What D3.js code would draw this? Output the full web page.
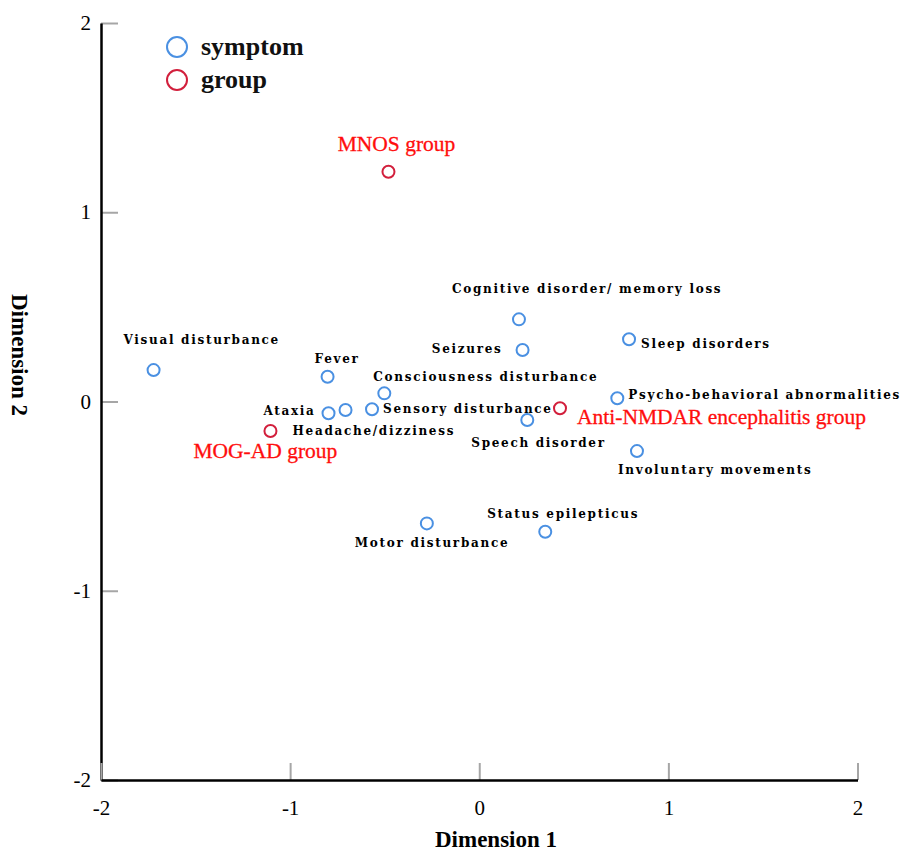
<!DOCTYPE html>
<html>
<head>
<meta charset="utf-8">
<script src="https://cdn.jsdelivr.net/npm/d3@7"></script>
<style>
  html, body { margin: 0; padding: 0; background: #fff; }
  svg { display: block; }
</style>
</head>
<body>
<svg id="chart" width="913" height="852"></svg>
<script>
// ---- data ----
const symptomNames = [
  "Visual disturbance", "Fever", "Consciousness disturbance", "Ataxia",
  "Headache/dizziness", "Sensory disturbance", "Seizures",
  "Cognitive disorder/ memory loss", "Sleep disorders",
  "Psycho-behavioral abnormalities", "Speech disorder",
  "Involuntary movements", "Status epilepticus", "Motor disturbance"
];
const symptomDim1 = [-1.722, -0.802, -0.502, -0.797, -0.707, -0.567, 0.229, 0.210, 0.792, 0.730, 0.254, 0.834, 0.349, -0.277];
const symptomDim2 = [0.166, 0.131, 0.043, -0.062, -0.045, -0.041, 0.272, 0.434, 0.329, 0.017, -0.098, -0.262, -0.688, -0.644];

const groupNames = ["MNOS group", "MOG-AD group", "Anti-NMDAR encephalitis group"];
const groupDim1 = [-0.480, -1.104, 0.427];
const groupDim2 = [1.214, -0.156, -0.036];

const tickValues = [-2, -1, 0, 1, 2];
const tickLabels = ["-2", "-1", "0", "1", "2"];
const legendLabels = ["symptom", "group"];
const axisTitles = ["Dimension 1", "Dimension 2"];

// ---- label layout (pixel offsets from the point) ----
const symptomLabelLayout = [
  [-30, -26, "start"], [-13, -14, "start"], [-11, -12, "start"], [-13, 2, "end"],
  [-53, 25, "start"], [11, 4, "start"], [-20, 3, "end"],
  [-67, -26, "start"], [12, 9, "start"],
  [11, 1, "start"], [-56, 27, "start"],
  [-19, 23, "start"], [-58, -14, "start"], [-72, 24, "start"]
];
const groupLabelLayout = [[8, -21, "middle"], [-77, 27, "start"], [17, 16, "start"]];

// ---- chart ----
const blue = "#4a90e2", crimson = "#d21f3c", red = "#ff0d0d";
const svg = d3.select("#chart");
const x = d3.scaleLinear().domain([-2, 2]).range([101, 857.5]);
const y = d3.scaleLinear().domain([-2, 2]).range([780, 23]);

const xAxis = d3.axisBottom(x).tickValues(tickValues)
  .tickFormat((d, i) => tickLabels[i]).tickSizeInner(-17).tickSizeOuter(0).tickPadding(20);
const yAxis = d3.axisLeft(y).tickValues(tickValues)
  .tickFormat((d, i) => tickLabels[i]).tickSizeInner(-17).tickSizeOuter(0).tickPadding(10);

function styleAxis(g) {
  g.select(".domain").attr("stroke", "#000").attr("stroke-width", 2.5);
  g.selectAll(".tick line").attr("stroke", "#a6a6a6").attr("stroke-width", 2);
  g.selectAll(".tick text").attr("fill", "#000")
    .style("font-family", "'Liberation Serif', 'Times New Roman', serif")
    .style("font-size", "21px");
}
const gy = svg.append("g").attr("transform", "translate(101,0)").call(yAxis).call(styleAxis);
const gx = svg.append("g").attr("transform", "translate(0,780)").call(xAxis).call(styleAxis);
gy.select(".domain").raise();
gx.select(".domain").raise();

// axis titles
svg.append("text").attr("x", 496).attr("y", 847).attr("text-anchor", "middle")
  .style("font-family", "'Liberation Serif', 'Times New Roman', serif")
  .style("font-size", "23px").style("font-weight", "bold").text(axisTitles[0]);
svg.append("text").attr("transform", "translate(12,355) rotate(90)").attr("text-anchor", "middle")
  .style("font-family", "'Liberation Serif', 'Times New Roman', serif")
  .style("font-size", "23px").style("font-weight", "bold").text(axisTitles[1]);

// symptom points
const symptoms = symptomNames.map((n, i) => ({ name: n, d1: symptomDim1[i], d2: symptomDim2[i], lay: symptomLabelLayout[i] }));
const groups = groupNames.map((n, i) => ({ name: n, d1: groupDim1[i], d2: groupDim2[i], lay: groupLabelLayout[i] }));

svg.append("g").selectAll("circle").data(symptoms).join("circle")
  .attr("cx", d => x(d.d1)).attr("cy", d => y(d.d2)).attr("r", 6)
  .attr("fill", "none").attr("stroke", blue).attr("stroke-width", 2);
svg.append("g").selectAll("text").data(symptoms).join("text")
  .attr("x", d => x(d.d1) + d.lay[0]).attr("y", d => y(d.d2) + d.lay[1])
  .attr("text-anchor", d => d.lay[2])
  .style("font-family", "'DejaVu Serif', serif").style("font-weight", "bold")
  .style("font-size", "12px").style("letter-spacing", "1.7px").attr("fill", "#000")
  .text(d => d.name);

svg.append("g").selectAll("circle").data(groups).join("circle")
  .attr("cx", d => x(d.d1)).attr("cy", d => y(d.d2)).attr("r", 6)
  .attr("fill", "none").attr("stroke", crimson).attr("stroke-width", 2);
svg.append("g").selectAll("text").data(groups).join("text")
  .attr("x", d => x(d.d1) + d.lay[0]).attr("y", d => y(d.d2) + d.lay[1])
  .attr("text-anchor", d => d.lay[2])
  .style("font-family", "'Liberation Serif', 'Times New Roman', serif")
  .style("font-size", "21.5px").attr("fill", red)
  .attr("stroke", red).attr("stroke-width", 0.3)
  .text(d => d.name);

// legend
const legend = svg.append("g");
const legColors = [blue, crimson];
legendLabels.forEach((lab, i) => {
  legend.append("circle").attr("cx", 177).attr("cy", 47 + i * 33).attr("r", 10)
    .attr("fill", "none").attr("stroke", legColors[i]).attr("stroke-width", 2);
  legend.append("text").attr("x", 201).attr("y", 55 + i * 33)
    .style("font-family", "'Liberation Serif', 'Times New Roman', serif")
    .style("font-size", "26px").style("font-weight", "bold").attr("fill", "#111")
    .text(lab);
});
</script>
</body>
</html>
